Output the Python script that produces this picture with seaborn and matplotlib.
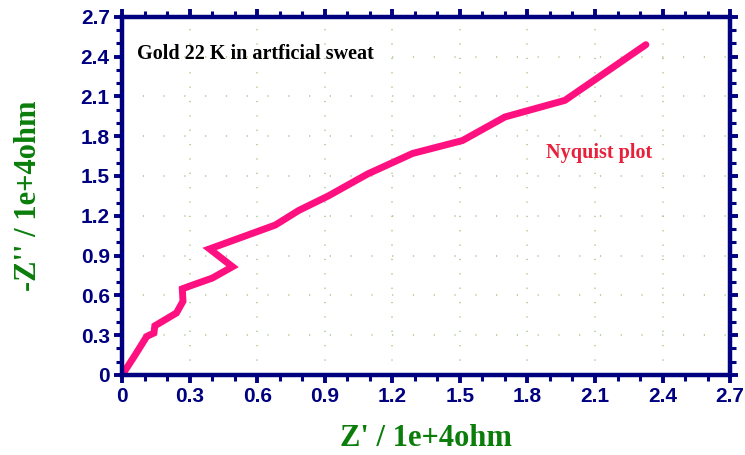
import numpy as np
import pandas as pd
import seaborn as sns
import matplotlib
matplotlib.use("Agg")
from matplotlib import pyplot as plt
from matplotlib.ticker import MultipleLocator

# Nyquist data (units of 1e+4 ohm)
z_real = [0.0, 0.05, 0.109, 0.141, 0.145, 0.241, 0.27, 0.267, 0.30, 0.40, 0.49,
          0.388, 0.68, 0.784, 0.916, 1.09, 1.29, 1.511, 1.70, 1.966, 2.326]
z_imag = [0.0, 0.13, 0.29, 0.316, 0.37, 0.467, 0.555, 0.649, 0.67, 0.73, 0.816,
          0.95, 1.13, 1.24, 1.35, 1.515, 1.67, 1.767, 1.945, 2.07, 2.49]

df = pd.DataFrame({"zr": z_real, "zi": z_imag})

navy = "#000080"

sns.set_style("white")
plt.rcParams["font.family"] = ["Liberation Sans", "DejaVu Sans"]

fig = plt.figure(figsize=(7.45, 4.55), dpi=100)
ax = fig.add_axes([0.164, 0.176, 0.816, 0.787])

sns.lineplot(data=df, x="zr", y="zi", sort=False, color="#ff1080",
             linewidth=5, solid_capstyle="round", solid_joinstyle="miter", ax=ax)

ax.set_xlim(0, 2.7)
ax.set_ylim(0, 2.7)
ax.xaxis.set_major_locator(MultipleLocator(0.3))
ax.yaxis.set_major_locator(MultipleLocator(0.3))
ax.xaxis.set_minor_locator(MultipleLocator(0.1))
ax.yaxis.set_minor_locator(MultipleLocator(0.1))
ax.xaxis.set_major_formatter(lambda v, p: "0" if abs(v) < 1e-9 else f"{v:.1f}")
ax.yaxis.set_major_formatter(lambda v, p: "0" if abs(v) < 1e-9 else f"{v:.1f}")

# dotted grid (dots every 0.1 unit along each major line)
ax.xaxis.grid(True, which="major", color="#a8c88a", linewidth=1.1,
              linestyle=(0, (0.8, 8.6)))
ax.yaxis.grid(True, which="major", color="#a8c88a", linewidth=1.1,
              linestyle=(0, (0.8, 12.8)))
ax.set_axisbelow(True)

for sp in ax.spines.values():
    sp.set_color(navy)
    sp.set_linewidth(3.2)
    sp.set_visible(True)

ax.tick_params(which="both", direction="out", color=navy, top=True, right=True,
               bottom=True, left=True, labeltop=False, labelright=False)
ax.tick_params(which="major", length=6, width=2.8, labelsize=15,
               labelcolor=navy, pad=3)
ax.tick_params(which="minor", length=4, width=2.2)
for lab in ax.get_xticklabels() + ax.get_yticklabels():
    lab.set_fontweight("bold")

ax.set_xlabel("Z' / 1e+4ohm", fontsize=22, fontweight="bold", color="#0a7d0a",
              family="Liberation Serif", labelpad=13)
ax.set_ylabel("-Z'' / 1e+4ohm", fontsize=22, fontweight="bold", color="#0a7d0a",
              family="Liberation Serif", labelpad=27)

ax.text(0.066, 2.42, "Gold 22 K in artficial sweat", fontsize=14.5,
        fontweight="bold", family="Liberation Serif", color="black", va="center")
ax.text(2.12, 1.67, "Nyquist plot", fontsize=14.5, fontweight="bold",
        family="Liberation Serif", color="#e8203a", va="center", ha="center")

fig.savefig("out.png", dpi=100)
